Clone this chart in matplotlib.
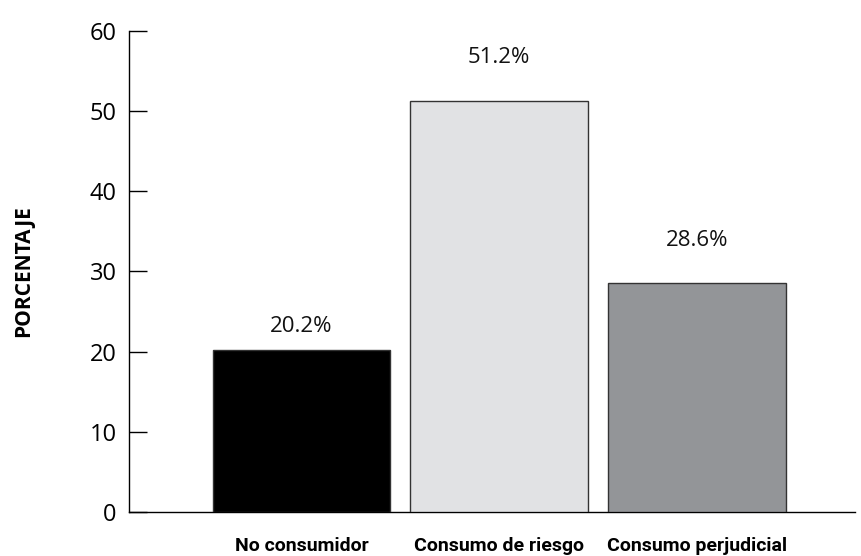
import matplotlib
matplotlib.use('Agg')
import matplotlib.pyplot as plt
import numpy as np

# Datos
categorias = ['No consumidor', 'Consumo de riesgo', 'Consumo perjudicial']
porcentajes = [20.2, 51.2, 28.6]
etiquetas = ['20.2%', '51.2%', '28.6%']
colores = ['#000000', '#e1e2e4', '#939598']
# separación de la etiqueta sobre cada barra (en unidades del eje)
desfase_etiqueta = [2.9, 5.5, 5.2]
yticks = [0, 10, 20, 30, 40, 50, 60]

plt.rcParams['font.family'] = ['Open Sans', 'DejaVu Sans']

fig = plt.figure(figsize=(8.61, 5.56), dpi=100)
ax = fig.add_axes([0.1498, 0.0791, 0.8432, 0.8657])

x = np.arange(len(categorias))
ax.bar(x, porcentajes, width=0.9, color=colores,
       edgecolor='#333333', linewidth=1.0, zorder=3)

for xi, v, lab, d in zip(x, porcentajes, etiquetas, desfase_etiqueta):
    ax.text(xi, v + d, lab, ha='center', va='center', fontsize=16, color='#111111')

ax.set_xlim(-0.873, 2.80)
ax.set_ylim(0, 60)
ax.set_yticks(yticks)
ax.tick_params(axis='y', direction='in', length=13, width=1.0,
               pad=9, labelsize=17, colors='#000000')
ax.set_xticks(x)
ax.set_xticklabels(categorias, fontsize=14, fontweight='bold',
                   family=['Roboto', 'DejaVu Sans'])
ax.tick_params(axis='x', length=0, pad=18)

ax.spines['top'].set_visible(False)
ax.spines['right'].set_visible(False)
ax.spines['left'].set_linewidth(1.0)
ax.spines['bottom'].set_linewidth(1.0)

fig.text(0.028, 0.513, 'PORCENTAJE', rotation=90, ha='center', va='center',
         fontsize=15, fontweight='bold')

plt.savefig('out.png', dpi=100)
plt.close()
